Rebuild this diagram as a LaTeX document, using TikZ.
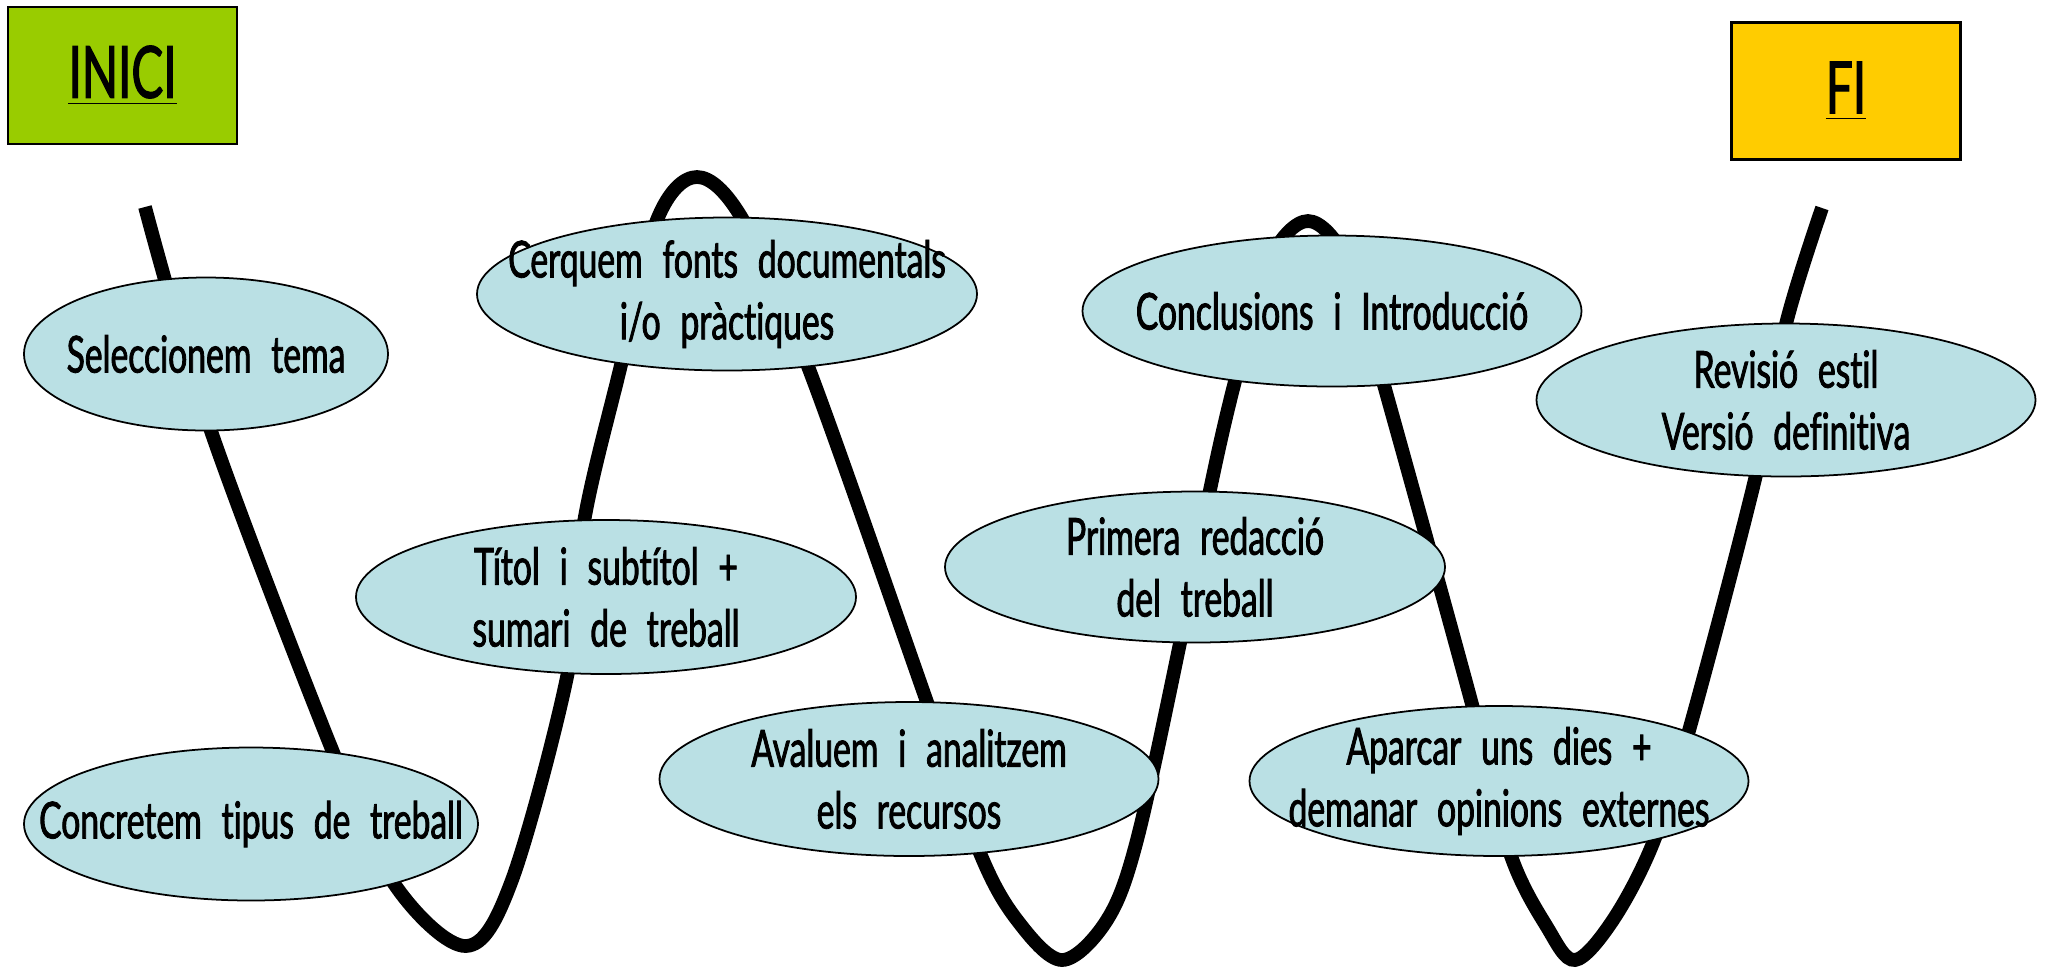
\documentclass[tikz,border=0pt]{standalone}
\usepackage{fontspec}
\setmainfont{Lato}[FakeStretch=0.66, WordSpace=2.3, FakeBold=1.6, Ligatures=NoCommon]
\usetikzlibrary{shapes.geometric}
\definecolor{verdinici}{HTML}{99CC00}
\definecolor{grocfi}{HTML}{FFCC00}
\definecolor{blauetapa}{RGB}{186,224,228}
\tikzset{%
  etapa/.style={draw, ellipse, fill=blauetapa, line width=0.5pt, inner sep=0pt},% step ellipses
  etapatext/.style={align=center, font=\fontsize{14.5}{17.6}\selectfont},% text inside a step
  extrem/.style={draw, rectangle, line width=0.8pt, minimum width=22.9mm,
    minimum height=13.7mm, font=\fontsize{20.5}{24}\selectfont},% start / end boxes
  cami/.style={line width=3.9pt}% the winding road
}

\begin{document}
\begin{tikzpicture}[x=0.1mm, y=-0.1mm]
  \useasboundingbox (0,0) rectangle (2047,968);
  % Start and end:
  \node[extrem, fill=verdinici] (inici) at (122.5,75.5) {\underline{INICI}};
  \node[extrem, fill=grocfi] (fi) at (1846,91) {\underline{FI}};
  % The road, drawn first so that the steps lie on top of it:
  \draw[cami] plot[smooth, tension=0.55] coordinates {
    (145,207) (211,431) (333,752) (395,885) (466,946) (512,880)
    (568,672) (584,522) (620,369) (657,220) (697,177) (743,220)
    (809,369) (927,702) (980,853) (1017,920) (1062,960) (1107,920) (1137,840)
    (1180,643) (1210,490) (1234,385) (1268,263) (1308,221) (1348,263)
    (1384,385) (1473,708) (1510,853) (1547,927) (1575,960) (1613,920)
    (1653,843) (1690,727) (1756,475) (1786,324) (1822,208)};
  % The steps:
  \node[etapa, minimum width=36.4mm, minimum height=15.3mm,
    label={[etapatext]center:Seleccionem tema}] (tema) at (206,354) {};
  \node[etapa, minimum width=45.4mm, minimum height=15.3mm,
    label={[etapatext]center:Concretem tipus de treball}] (tipus) at (251,824) {};
  \node[etapa, minimum width=50mm, minimum height=15.4mm,
    label={[etapatext]center:{Títol i subtítol +\\sumari de treball}}] (titol) at (606,597) {};
  \node[etapa, minimum width=50mm, minimum height=15.3mm,
    label={[etapatext]center:{Cerquem fonts documentals\\i/o pràctiques}}] (fonts) at (727,294) {};
  \node[etapa, minimum width=49.9mm, minimum height=15.4mm,
    label={[etapatext]center:{Avaluem i analitzem\\els recursos}}] (recursos) at (909,779) {};
  \node[etapa, minimum width=50mm, minimum height=15.1mm,
    label={[etapatext]center:{Primera redacció\\del treball}}] (redaccio) at (1195,567) {};
  \node[etapa, minimum width=49.9mm, minimum height=15.1mm,
    label={[etapatext]center:Conclusions i Introducció}] (conclusions) at (1332,311) {};
  \node[etapa, minimum width=49.9mm, minimum height=15mm,
    label={[etapatext]center:{Aparcar uns dies +\\demanar opinions externes}}] (aparcar) at (1499,781) {};
  \node[etapa, minimum width=49.9mm, minimum height=15.3mm,
    label={[etapatext]center:{Revisió estil\\Versió definitiva}}] (revisio) at (1786,400) {};
\end{tikzpicture}
\end{document}
